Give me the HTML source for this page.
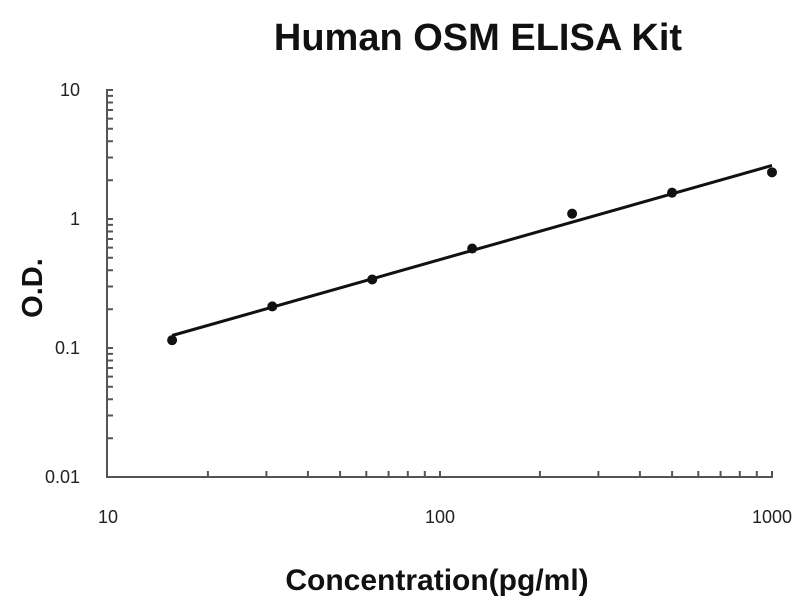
<!DOCTYPE html>
<html><head><style>body{margin:0;background:#fff}svg{display:block}</style></head>
<body>
<svg id="s" width="800" height="600" xmlns="http://www.w3.org/2000/svg" font-family="Liberation Sans, sans-serif">
<text x="478" y="50" font-size="38" font-weight="bold" text-anchor="middle" fill="#111">Human OSM ELISA Kit</text>
<text x="437" y="590" font-size="30" font-weight="bold" text-anchor="middle" fill="#111">Concentration(pg/ml)</text>
<text transform="translate(42,288) rotate(-90)" font-size="29" font-weight="bold" text-anchor="middle" fill="#111">O.D.</text>
<g font-size="18" fill="#222" text-anchor="end">
<text x="80" y="96">10</text><text x="80" y="225">1</text><text x="80" y="354">0.1</text><text x="80" y="483">0.01</text>
</g>
<g font-size="18" fill="#222" text-anchor="middle">
<text x="108" y="523">10</text><text x="440" y="523">100</text><text x="772" y="523">1000</text>
</g>
<g id="ax" stroke="#555" stroke-width="2" fill="none"></g>
<g id="dat"></g>
</svg>
<script>
var X=c=>108+332*Math.log10(c/10), Y=v=>219-129*Math.log10(v);
var ax=document.getElementById('ax'),ns='http://www.w3.org/2000/svg',d='M107 89V477H773';
for(var e=-2;e<1;e++)for(var k=2;k<=10;k++){var y=Y(k*Math.pow(10,e));d+='M107 '+y.toFixed(1)+'h6';}
for(var e=1;e<3;e++)for(var k=2;k<=10;k++){var x=X(k*Math.pow(10,e));d+='M'+x.toFixed(1)+' 477v-6';}
var p=document.createElementNS(ns,'path');p.setAttribute('d',d);ax.appendChild(p);
var g=document.getElementById('dat');
var l=document.createElementNS(ns,'line');l.setAttribute('x1',X(15.6));l.setAttribute('y1',Y(0.125));l.setAttribute('x2',X(1000));l.setAttribute('y2',Y(2.6));l.setAttribute('stroke','#111');l.setAttribute('stroke-width','3');g.appendChild(l);
[[15.6,0.115],[31.25,0.21],[62.5,0.34],[125,0.59],[250,1.1],[500,1.6],[1000,2.3]].forEach(function(q){var c=document.createElementNS(ns,'circle');c.setAttribute('cx',X(q[0]));c.setAttribute('cy',Y(q[1]));c.setAttribute('r','5');c.setAttribute('fill','#111');g.appendChild(c);});
</script>
</body></html>
